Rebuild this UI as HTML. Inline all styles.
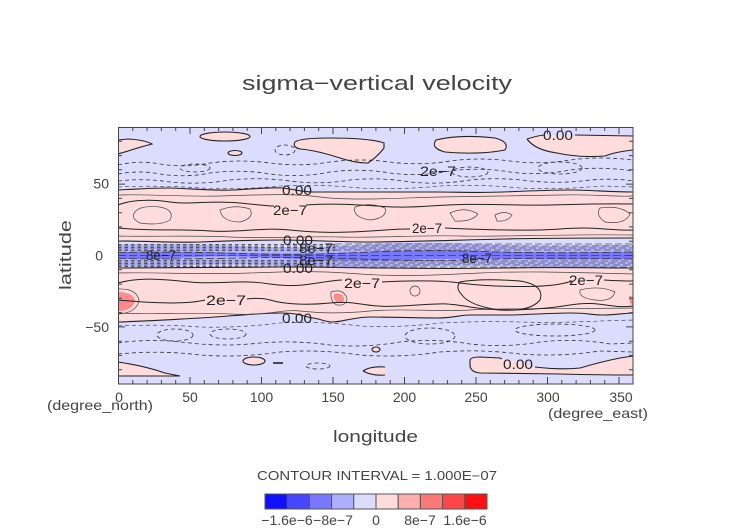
<!DOCTYPE html>
<html><head><meta charset="utf-8">
<style>html,body{margin:0;padding:0;background:#fff;}svg{display:block;}</style>
</head><body>
<svg width="752" height="532" viewBox="0 0 752 532" xmlns="http://www.w3.org/2000/svg" font-family="'Liberation Sans', 'DejaVu Sans', sans-serif">
<defs><clipPath id="c"><rect x="118" y="127" width="515" height="257"/></clipPath></defs>
<rect x="0" y="0" width="752" height="532" fill="#fff"/>

<!-- Title -->
<text x="242" y="90" font-size="20" fill="#444" textLength="270" lengthAdjust="spacingAndGlyphs">sigma−vertical velocity</text>

<g clip-path="url(#c)">
<rect x="118" y="127" width="515" height="257" fill="#dcdcff"/>

<!-- NH pink band -->
<path fill="#ffdcdc" d="M118,190 C140,189 150,188 167,188 S210,191 233,190 S270,187 282,188 S300,192 313,192 S360,192 380,192 S420,192 437,192 S480,193 503,192 S550,190 570,190 S610,192 633,192 L633,238 C600,238 560,239 503,239 S400,242 370,242 S300,240 282,240 S220,242 200,242 S140,241 118,241 Z"/>
<!-- SH pink band -->
<path fill="#ffdcdc" d="M118,268 C160,268 220,267 280,267 S350,268 380,268 S450,269 503,268 S600,268 633,268 L633,313 C625,313 615,315 603,315 S580,313 570,313 S530,315 510,315 S480,315 470,315 S445,318 437,318 S390,317 370,317 S345,322 333,322 S320,318 313,318 S295,313 280,313 S220,318 200,318 S150,321 118,322 Z"/>

<!-- NH top pink blobs -->
<path fill="#ffdcdc" d="M118,140 L128,139 Q145,140 152,144 Q140,147 128,151 L118,154 Z"/>
<ellipse cx="225" cy="136.5" rx="25" ry="4.5" fill="#ffdcdc"/>
<ellipse cx="235" cy="153" rx="7" ry="2.5" fill="#ffdcdc"/>
<path fill="#ffdcdc" d="M295,142 Q300,138 330,138 Q370,138 384,143 L384,148 Q378,156 368,163 Q355,163 340,158 Q315,150 300,149 Q292,147 295,142 Z"/>
<path fill="#ffdcdc" d="M436,140 Q460,134 495,138 Q510,142 505,150 Q480,155 445,152 Q430,148 436,140 Z"/>
<path fill="#ffdcdc" d="M527,139 Q540,135 560,135 L633,136 L633,150 Q615,152 605,156 Q580,158 557,153 Q535,150 527,139 Z"/>

<!-- SH bottom pink blobs -->
<path fill="#ffdcdc" d="M118,362 Q145,366 165,373 L180,376 L118,376 Z"/>
<ellipse cx="254" cy="361" rx="11" ry="4" fill="#ffdcdc"/>
<path fill="#ffdcdc" d="M363,371 Q370,366 385,367 L385,375 Q372,376 363,371 Z"/>
<ellipse cx="376" cy="349.5" rx="4" ry="2.5" fill="#ffdcdc"/>
<path fill="#ffdcdc" d="M470,360 Q471,357 480,357 L500,358 Q520,362 535,367 Q560,370 580,368 Q600,362 620,358 L633,356 L633,375 Q600,375 560,374 L480,373 Q470,372 470,365 Z"/>

<!-- Equatorial band -->
<path fill="#b0b0ff" d="M118,245 Q180,243 240,246 T360,245 T480,244 T600,245 L633,245 L633,266 Q580,268 520,266 T400,267 T280,266 T160,267 L118,266 Z"/>
<path fill="#7878ff" d="M118,252 Q180,251 240,253 T360,252 T480,251 T600,252 L633,252 L633,259 Q580,260 520,259 T400,260 T280,258 T160,259 L118,259 Z"/>

<!-- darker pink spots -->
<path fill="#ff8c8c" d="M118,292 Q132,292 135,300 Q134,309 122,311 L118,311 Z"/>
<path fill="#ff8c8c" d="M334,294 Q342,292 344,298 Q345,303 338,303 Q333,301 334,294 Z"/>
<path fill="#ff8c8c" d="M629,296 Q633,295 634,300 L634,306 Q629,305 629,296 Z"/>

<!-- Zero contours (thick solid) -->
<g fill="none" stroke="#222" stroke-width="1.1">
<path d="M118,190 C140,189 150,188 167,188 S210,191 233,190 S270,187 282,188 S300,192 313,192 S360,192 380,192 S420,192 437,192 S480,193 503,192 S550,190 570,190 S610,192 633,192"/>
<path d="M118,241 C150,241 175,243 200,242 S260,240 282,240 S340,242 370,242 S460,240 503,239 S600,238 633,238"/>
<path d="M118,268 C160,268 220,267 280,267 S350,268 380,268 S450,269 503,268 S600,268 633,268"/>
<path d="M118,322 C150,321 180,319 200,318 S260,313 280,313 S305,317 313,318 S325,322 333,322 S355,317 370,317 S420,318 437,318 S460,315 470,315 S500,315 510,315 S550,313 570,313 S590,315 603,315 S625,313 633,313"/>
<path d="M118,140 L128,139 Q145,140 152,144 Q140,147 128,151 L118,154"/>
<ellipse cx="225" cy="136.5" rx="25" ry="4.5"/>
<ellipse cx="235" cy="153" rx="7" ry="2.5"/>
<path d="M295,142 Q300,138 330,138 Q370,138 384,143 L384,148 Q378,156 368,163 Q355,163 340,158 Q315,150 300,149 Q292,147 295,142 Z"/>
<path d="M436,140 Q460,134 495,138 Q510,142 505,150 Q480,155 445,152 Q430,148 436,140 Z"/>
<path d="M527,139 Q540,135 545,135 M575,135 L633,136 M633,150 Q615,152 605,156 Q580,158 557,153 Q535,150 527,139"/>
<path d="M118,362 Q145,366 165,373 L180,376 L118,376"/>
<ellipse cx="254" cy="361" rx="11" ry="4"/>
<path d="M363,371 Q370,366 385,367 M385,375 Q372,376 363,371"/>
<ellipse cx="376" cy="349.5" rx="4" ry="2.5"/>
<path d="M502,359 L500,358 L480,357 Q471,357 470,360 L470,365 Q470,372 480,373 L560,374 Q600,375 633,375 M633,356 L620,358 Q600,362 580,368 Q560,370 535,367"/>
<path d="M273,363 L283,363" stroke-width="1.6"/>
</g>

<!-- NH interior contours -->
<g fill="none" stroke="#444" stroke-width="0.7">
<path d="M118,195 C150,194 180,197 220,196 S290,193 320,197 S400,198 440,197 S520,196 560,195 S610,197 633,196"/>
<path d="M118,236 C150,237 190,235 230,237 S300,236 340,237 S420,235 460,236 S560,234 633,235"/>
<path d="M135,212 Q140,205 160,207 Q175,210 170,220 Q160,226 140,223 Q130,218 135,212 Z"/>
<path d="M220,210 Q235,204 250,209 Q255,218 240,222 Q222,222 220,210 Z"/>
<path d="M355,207 Q370,202 385,208 Q388,218 370,220 Q352,217 355,207 Z"/>
<path d="M450,213 Q465,206 478,214 Q472,222 455,221 Z"/>
<path d="M495,215 Q505,210 512,215 Q508,222 497,221 Z"/>
<path d="M600,208 Q620,205 630,214 Q625,225 605,222 Q595,215 600,208 Z"/>
<!-- SH thin -->
<path d="M118,273 C160,272 200,275 250,273 S320,271 360,274 S440,275 480,273 S560,272 633,274"/>
<path d="M118,313 C150,315 190,312 230,314 S280,309 300,311 S340,314 370,311 S440,312 470,310 S560,309 633,308"/>
<path d="M118,289 Q136,288 139,300 Q137,313 118,314"/>
<path d="M331,292 Q343,288 347,298 Q347,306 337,305 Q330,302 331,292 Z"/>
<circle cx="415" cy="291" r="5"/>
<path d="M580,290 Q600,285 615,292 Q612,302 595,300 Q578,298 580,290 Z"/>
</g>
<g fill="none" stroke="#222" stroke-width="1">
<path d="M118,205 C130,200 150,199 170,202 S210,200 240,203 S268,206 274,206 M306,205 S330,203 360,205 S400,208 430,206 S480,204 520,205 S580,203 633,204"/>
<path d="M118,228 C150,231 180,229 210,231 S260,227 290,230 S340,233 370,231 S400,229 410,229 M445,228 S520,232 560,229 S610,231 633,230"/>
<path d="M118,283 C140,277 160,279 190,282 S240,279 270,284 S320,281 342,280 M382,282 S430,279 460,283 S540,288 560,284 S568,281 570,281 M604,280 S620,281 633,281"/>
<path d="M118,300 C150,303 185,305 205,300 M247,299 S260,297 270,300 S300,306 330,303 S360,308 400,306 S440,302 470,307 S540,310 570,305 S610,309 633,306"/>
<path d="M460,282 Q480,278 520,281 Q545,285 540,300 Q530,312 500,310 Q470,306 462,295 Q455,288 460,282 Z"/>
</g>

<!-- NH dashed -->
<g fill="none" stroke="#333" stroke-width="0.8" stroke-dasharray="4 3">
<path d="M118,165 Q140,160 160,164 Q185,168 210,163 Q240,159 270,163 Q300,167 330,162 Q360,158 390,162 Q420,166 450,161 Q480,157 510,161 Q540,165 570,160 Q600,156 633,160"/>
<path d="M118,174 Q140,170 160,174 Q185,178 210,173 Q240,169 270,174 Q300,178 330,172 Q360,168 390,173 Q420,177 450,171 Q480,167 510,172 Q540,176 570,170 Q600,166 633,171"/>
<path d="M118,181 Q145,178 170,182 Q200,185 230,180 Q260,177 290,181 Q320,185 350,180 Q380,177 410,182 Q440,185 470,180 Q500,177 530,181 Q560,184 590,180 Q615,178 633,181"/>
<path d="M118,187 Q160,185 200,188 Q240,190 280,186 Q320,184 360,188 Q400,190 440,186 Q480,184 520,188 Q560,190 600,186 L633,187" stroke-width="0.6"/>
<ellipse cx="285" cy="150" rx="10" ry="5"/>
<ellipse cx="470" cy="172" rx="18" ry="5"/>
<ellipse cx="560" cy="168" rx="22" ry="6"/>
<ellipse cx="195" cy="168" rx="15" ry="4"/>
</g>
<!-- SH dashed -->
<g fill="none" stroke="#333" stroke-width="0.8" stroke-dasharray="4 3">
<path d="M118,326 Q160,324 200,327 Q240,328 280,323 Q320,321 360,326 Q400,328 440,323 Q480,321 520,322 Q560,323 600,321 L633,320" stroke-width="0.6"/>
<path d="M118,343 Q150,338 190,343 Q225,347 260,343 Q295,340 330,345 Q365,348 400,342 Q435,338 470,344 Q505,348 540,342 Q575,338 610,344 L633,343"/>
<path d="M118,354 Q160,350 200,355 Q240,358 280,352 Q320,349 360,355 Q400,358 440,352 Q480,349 520,354 Q560,357 600,351 L633,352"/>
<ellipse cx="175" cy="335" rx="18" ry="6"/>
<ellipse cx="228" cy="334" rx="18" ry="5"/>
<ellipse cx="430" cy="336" rx="25" ry="8"/>
<ellipse cx="555" cy="330" rx="40" ry="6"/>
<ellipse cx="318" cy="366" rx="12" ry="3"/>
</g>

<!-- Equatorial dashes -->
<g fill="none" stroke="#555" stroke-width="0.9" stroke-dasharray="3.5 3">
<path d="M118,244.5 H335 M118,246 H335 M118,247.5 H335 M118,249 H335 M118,250.5 H335 M118,260.5 H335 M118,262 H335 M118,263.5 H335 M118,265 H335 M118,266.5 H335"/>
</g>
<g fill="none" stroke="#555" stroke-width="0.7" stroke-dasharray="7 3">
<path d="M335,244 H633" stroke-dashoffset="0"/>
<path d="M335,246 H633" stroke-dashoffset="3"/>
<path d="M335,248 H633" stroke-dashoffset="6"/>
<path d="M335,250 H633" stroke-dashoffset="1"/>
<path d="M335,261 H633" stroke-dashoffset="4"/>
<path d="M335,263 H633" stroke-dashoffset="7"/>
<path d="M335,265 H633" stroke-dashoffset="2"/>
<path d="M335,267 H633" stroke-dashoffset="5"/>
</g>
<g fill="none" stroke="#333" stroke-width="0.8" stroke-dasharray="8 3">
<path d="M118,252.5 Q180,251.5 240,253.5 T360,252.5 T480,251.5 T600,252.5 T660,252.5"/>
<path d="M118,258.5 Q180,259.5 240,258 T360,259 T480,259.5 T600,258.5 T660,258.5"/>
<path d="M118,255.5 H633" stroke="#3333aa"/>
</g>
</g>

<!-- contour labels -->
<g font-size="14" fill="#222" text-anchor="middle">
<text x="558" y="140" textLength="30" lengthAdjust="spacingAndGlyphs">0.00</text>
<text x="438" y="176" textLength="36" lengthAdjust="spacingAndGlyphs">2e−7</text>
<text x="297" y="195" textLength="30" lengthAdjust="spacingAndGlyphs">0.00</text>
<text x="290" y="215" textLength="34" lengthAdjust="spacingAndGlyphs">2e−7</text>
<text x="427" y="233" textLength="30" lengthAdjust="spacingAndGlyphs">2e−7</text>
<text x="298" y="245" textLength="30" lengthAdjust="spacingAndGlyphs">0.00</text>
<text x="316" y="253" textLength="34" lengthAdjust="spacingAndGlyphs">8e−7</text>
<text x="316" y="265" textLength="34" lengthAdjust="spacingAndGlyphs">8e−7</text>
<text x="298" y="273" textLength="30" lengthAdjust="spacingAndGlyphs">0.00</text>
<text x="161" y="260" textLength="30" lengthAdjust="spacingAndGlyphs">8e−7</text>
<text x="477" y="263" textLength="30" lengthAdjust="spacingAndGlyphs">8e−7</text>
<text x="362" y="288" textLength="36" lengthAdjust="spacingAndGlyphs">2e−7</text>
<text x="586" y="285" textLength="34" lengthAdjust="spacingAndGlyphs">2e−7</text>
<text x="226" y="305" textLength="40" lengthAdjust="spacingAndGlyphs">2e−7</text>
<text x="297" y="323" textLength="30" lengthAdjust="spacingAndGlyphs">0.00</text>
<text x="518" y="369" textLength="30" lengthAdjust="spacingAndGlyphs">0.00</text>
</g>

<!-- Frame -->
<rect x="118.5" y="127.5" width="514.5" height="256.5" fill="none" stroke="#444" stroke-width="1"/>
<!-- ticks -->
<g stroke="#444" stroke-width="1">
<path d="M118.5,384 v-7 M132.8,384 v-4 M147.1,384 v-4 M161.4,384 v-4 M175.7,384 v-4 M190,384 v-7 M204.3,384 v-4 M218.6,384 v-4 M232.9,384 v-4 M247.2,384 v-4 M261.5,384 v-7 M275.8,384 v-4 M290.1,384 v-4 M304.4,384 v-4 M318.7,384 v-4 M333,384 v-7 M347.3,384 v-4 M361.6,384 v-4 M375.9,384 v-4 M390.2,384 v-4 M404.5,384 v-7 M418.8,384 v-4 M433.1,384 v-4 M447.4,384 v-4 M461.7,384 v-4 M476,384 v-7 M490.3,384 v-4 M504.6,384 v-4 M518.9,384 v-4 M533.2,384 v-4 M547.5,384 v-7 M561.8,384 v-4 M576.1,384 v-4 M590.4,384 v-4 M604.7,384 v-4 M619,384 v-7"/>
<path d="M118.5,127 v7 M132.8,127 v4 M147.1,127 v4 M161.4,127 v4 M175.7,127 v4 M190,127 v7 M204.3,127 v4 M218.6,127 v4 M232.9,127 v4 M247.2,127 v4 M261.5,127 v7 M275.8,127 v4 M290.1,127 v4 M304.4,127 v4 M318.7,127 v4 M333,127 v7 M347.3,127 v4 M361.6,127 v4 M375.9,127 v4 M390.2,127 v4 M404.5,127 v7 M418.8,127 v4 M433.1,127 v4 M447.4,127 v4 M461.7,127 v4 M476,127 v7 M490.3,127 v4 M504.6,127 v4 M518.9,127 v4 M533.2,127 v4 M547.5,127 v7 M561.8,127 v4 M576.1,127 v4 M590.4,127 v4 M604.7,127 v4 M619,127 v7"/>
<path d="M118,141.3 h4 M118,155.6 h4 M118,169.8 h4 M118,184.1 h7 M118,198.4 h4 M118,212.7 h4 M118,226.9 h4 M118,241.2 h4 M118,255.5 h7 M118,269.8 h4 M118,284.1 h4 M118,298.3 h4 M118,312.6 h4 M118,326.9 h7 M118,341.2 h4 M118,355.4 h4 M118,369.7 h4"/>
<path d="M633,141.3 h-4 M633,155.6 h-4 M633,169.8 h-4 M633,184.1 h-7 M633,198.4 h-4 M633,212.7 h-4 M633,226.9 h-4 M633,241.2 h-4 M633,255.5 h-7 M633,269.8 h-4 M633,284.1 h-4 M633,298.3 h-4 M633,312.6 h-4 M633,326.9 h-7 M633,341.2 h-4 M633,355.4 h-4 M633,369.7 h-4"/>
</g>

<!-- tick labels -->
<g font-size="14" fill="#444">
<g text-anchor="middle">
<text x="119" y="402">0</text>
<text x="190" y="402">50</text>
<text x="261.5" y="402">100</text>
<text x="333" y="402">150</text>
<text x="404.5" y="402">200</text>
<text x="476" y="402">250</text>
<text x="548" y="402">300</text>
<text x="621" y="402">350</text>
</g>
<g text-anchor="end">
<text x="109" y="188.5">50</text>
<text x="103" y="260.5">0</text>
<text x="109" y="332">−50</text>
</g>
<text x="47" y="410" textLength="106" lengthAdjust="spacingAndGlyphs">(degree_north)</text>
<text x="548" y="418" textLength="100" lengthAdjust="spacingAndGlyphs">(degree_east)</text>
</g>

<text x="333" y="442" font-size="17" fill="#444" textLength="85" lengthAdjust="spacingAndGlyphs">longitude</text>
<text transform="translate(71,255) rotate(-90)" x="0" y="0" font-size="17" fill="#444" text-anchor="middle" textLength="70" lengthAdjust="spacingAndGlyphs">latitude</text>

<!-- Contour interval + colorbar -->
<text x="257" y="480" font-size="12.5" fill="#444" textLength="240" lengthAdjust="spacingAndGlyphs">CONTOUR INTERVAL = 1.000E−07</text>
<g stroke="#555" stroke-width="1">
<rect x="265" y="494" width="22.2" height="15" fill="#1010ff"/>
<rect x="287.2" y="494" width="22.2" height="15" fill="#4646ff"/>
<rect x="309.4" y="494" width="22.2" height="15" fill="#7878ff"/>
<rect x="331.6" y="494" width="22.2" height="15" fill="#aeaeff"/>
<rect x="353.8" y="494" width="22.2" height="15" fill="#dcdcff"/>
<rect x="376" y="494" width="22.2" height="15" fill="#ffdcdc"/>
<rect x="398.2" y="494" width="22.2" height="15" fill="#ffaeae"/>
<rect x="420.4" y="494" width="22.2" height="15" fill="#ff7878"/>
<rect x="442.6" y="494" width="22.2" height="15" fill="#ff4646"/>
<rect x="464.8" y="494" width="22.2" height="15" fill="#ff1010"/>
</g>
<g font-size="14" fill="#444" text-anchor="middle">
<text x="287" y="525">−1.6e−6</text>
<text x="333" y="525">−8e−7</text>
<text x="376" y="525">0</text>
<text x="420" y="525">8e−7</text>
<text x="465" y="525">1.6e−6</text>
</g>
</svg>
</body></html>
